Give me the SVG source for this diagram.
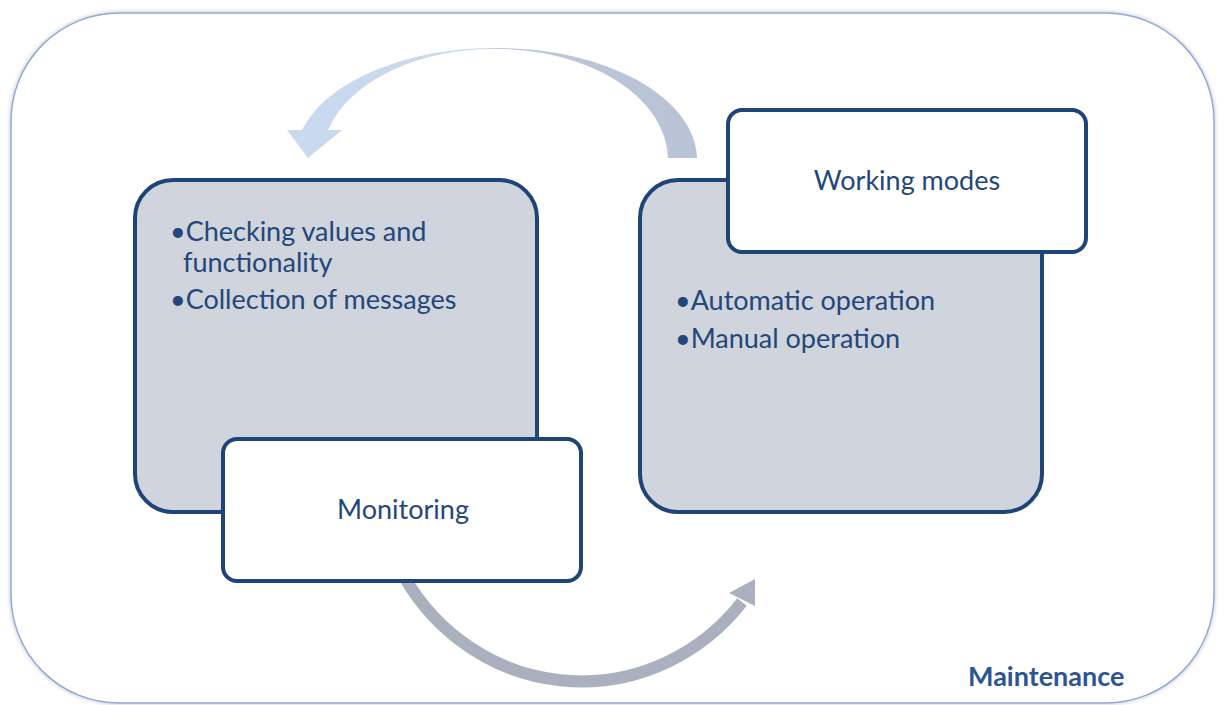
<svg xmlns="http://www.w3.org/2000/svg" width="1224" height="705" viewBox="0 0 1224 705">
  <defs>
    <filter id="soft" x="-5%" y="-5%" width="110%" height="110%">
      <feGaussianBlur in="SourceAlpha" stdDeviation="2"/>
      <feOffset dx="0" dy="0" result="b"/>
      <feComponentTransfer><feFuncA type="linear" slope="0.25"/></feComponentTransfer>
      <feMerge><feMergeNode/><feMergeNode in="SourceGraphic"/></feMerge>
    </filter>
    <linearGradient id="topArc" gradientUnits="userSpaceOnUse" x1="290" y1="0" x2="700" y2="0">
      <stop offset="0" stop-color="#c9d9ee"/>
      <stop offset="0.48" stop-color="#c9d8ec"/>
      <stop offset="0.52" stop-color="#bcc8da"/>
      <stop offset="1" stop-color="#b8c4d6"/>
    </linearGradient>
    <style>
      .frame { fill: #ffffff; stroke: #8eaadb; stroke-width: 1.5; }
      .panel { fill: #d0d4dc; stroke: #1f4477; stroke-width: 4; }
      .tag { fill: #ffffff; stroke: #1f4477; stroke-width: 4; }
      .txt { font-family: Lato, "Liberation Sans", sans-serif; font-size: 27px; fill: #23477a; }
      .mid { text-anchor: middle; }
      .title { font-family: Lato, "Liberation Sans", sans-serif; font-size: 27px; font-weight: bold; fill: #2e5592; }
    </style>
  </defs>

  <!-- outer frame -->
  <rect class="frame" x="11" y="13" width="1203" height="690" rx="108" ry="108" filter="url(#soft)"/>

  <!-- curved arrows -->
  <g id="connectors">
    <!-- upper crescent arrow, right to left -->
    <path fill="url(#topArc)" d="M697,158 A200,112 0 0 0 497,48 A200,112 0 0 0 302,130 L287,130 L308,158 L342,130 L328,130 A171,111 0 0 1 498,49 A171,111 0 0 1 668,158 Z"/>
    <!-- lower arc arrow, left to right -->
    <path d="M398,565 A206,213 0 0 0 742,602" fill="none" stroke="#abb0bf" stroke-width="12"/>
    <polygon points="729,593 755,579 755,606" fill="#abb0bf"/>
  </g>

  <!-- Monitoring -->
  <g id="monitoring">
    <rect class="panel" x="135" y="180" width="402" height="332" rx="38" ry="38"/>
    <text class="txt" x="170" y="241">•Checking values and</text>
    <text class="txt" x="183" y="272">functionality</text>
    <text class="txt" x="170" y="309">•Collection of messages</text>
    <rect class="tag" x="223" y="439" width="358" height="142" rx="14" ry="14"/>
    <text class="txt mid" x="403" y="519">Monitoring</text>
  </g>

  <!-- Working modes -->
  <g id="working-modes">
    <rect class="panel" x="640" y="180" width="402" height="332" rx="38" ry="38"/>
    <text class="txt" x="675" y="310">•Automatic operation</text>
    <text class="txt" x="675" y="348">•Manual operation</text>
    <rect class="tag" x="728" y="110" width="358" height="142" rx="14" ry="14"/>
    <text class="txt mid" x="907" y="190">Working modes</text>
  </g>

  <text class="title" x="968" y="686">Maintenance</text>
</svg>
